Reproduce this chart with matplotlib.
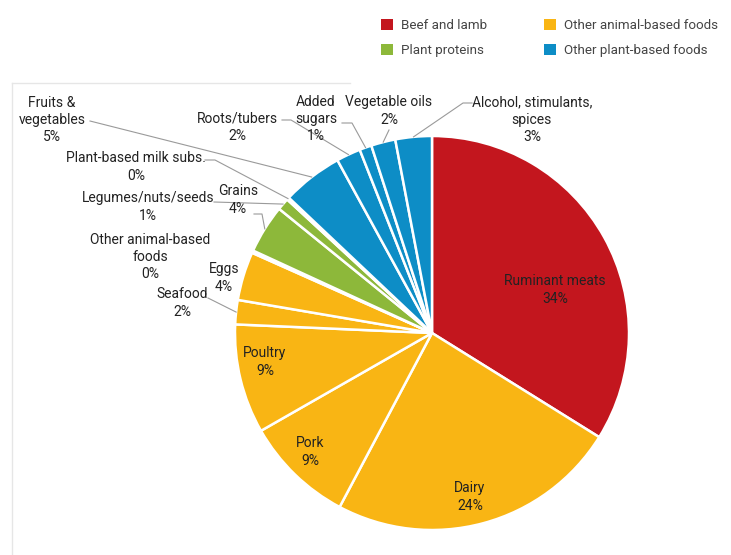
import numpy as np
import matplotlib.pyplot as plt
from matplotlib.patches import Patch
from matplotlib.lines import Line2D

plt.rcParams['font.family'] = ['Roboto', 'DejaVu Sans']

# data, clockwise from 12 o'clock
labels = ["Ruminant meats", "Dairy", "Pork", "Poultry", "Seafood", "Eggs",
          "Other animal-based\nfoods", "Grains", "Legumes/nuts/seeds",
          "Plant-based milk subs.", "Fruits &\nvegetables", "Roots/tubers",
          "Added\nsugars", "Vegetable oils", "Alcohol, stimulants,\nspices"]
shown = [34, 24, 9, 9, 2, 4, 0, 4, 1, 0, 5, 2, 1, 2, 3]
values = [34, 24, 9, 9, 2, 4, 0.2, 4, 1, 0.2, 5, 2, 1, 2, 3]
groups = ["beef", "animal", "animal", "animal", "animal", "animal", "animal",
          "plant", "plant", "plant", "other", "other", "other", "other", "other"]

group_names = {"beef": "Beef and lamb", "plant": "Plant proteins",
               "animal": "Other animal-based foods", "other": "Other plant-based foods"}
colors = {"beef": "#C3161E", "animal": "#F9B514", "plant": "#8DB83A", "other": "#0D8DC6"}

W, H = 731, 555
cx, cy, R = 432, 333, 197


def py(y):
    # pixel row -> data y
    return H - y


# label placement (pixel coords) and leader start points
label_pos = {
    0: (555, 290), 1: (470, 497), 2: (310, 452), 3: (265, 362),
    4: (182, 303), 5: (224, 278), 6: (150, 257), 7: (238, 200),
    8: (148, 207), 9: (136, 167), 10: (52, 120), 11: (237, 127),
    12: (316, 119), 13: (389, 111), 14: (532, 120),
}
leaders = {
    4: [(208, 298)], 7: [(254, 214), (262, 214)], 8: [(214, 202)],
    9: [(205, 160), (215, 160)], 10: [(90, 121)], 11: [(282, 120), (291, 120)],
    12: [(342, 123), (352, 123)], 13: [(389, 130)], 14: [(472, 103), (463, 103)],
}

fig = plt.figure(figsize=(W / 100, H / 100), dpi=100)
ax = fig.add_axes([0, 0, 1, 1])

wedges, _ = ax.pie(values, colors=[colors[g] for g in groups], startangle=90,
                   counterclock=False, center=(cx, py(cy)), radius=R,
                   wedgeprops=dict(edgecolor="white", linewidth=1.8))
ax.set_xlim(0, W)
ax.set_ylim(0, H)
ax.set_aspect("equal")
ax.axis("off")

for i, (lab, pct) in enumerate(zip(labels, shown)):
    x, y = label_pos[i]
    ax.text(x, py(y), f"{lab}\n{pct}%", ha="center", va="center",
            fontsize=10, color="#222222", linespacing=1.3)
    if i in leaders:
        w = wedges[i]
        mid = np.deg2rad((w.theta1 + w.theta2) / 2)
        ex = cx + R * np.cos(mid)
        ey = py(cy) + R * np.sin(mid)
        pts = leaders[i]
        xs = [p[0] for p in pts] + [ex]
        ys = [py(p[1]) for p in pts] + [ey]
        ax.plot(xs, ys, color="#9a9a9a", lw=0.8)

# faint frame seen behind the chart
fig.add_artist(Line2D([12 / W, 350 / W], [1 - 83 / H, 1 - 83 / H],
                      color="#e6e6e6", lw=1))
fig.add_artist(Line2D([12 / W, 12 / W], [1 - 83 / H, 0], color="#e6e6e6", lw=1))

order = ["beef", "plant", "animal", "other"]
handles = [Patch(facecolor=colors[g], label=group_names[g]) for g in order]
fig.legend(handles=handles, loc="upper left", bbox_to_anchor=(369 / W, 1 - 7 / H),
           ncol=2, frameon=False, fontsize=9.6, handlelength=0.9, handleheight=0.9,
           columnspacing=4.3, handletextpad=0.6, labelspacing=0.9, labelcolor="#444444")

fig.savefig("out.png", dpi=100)
